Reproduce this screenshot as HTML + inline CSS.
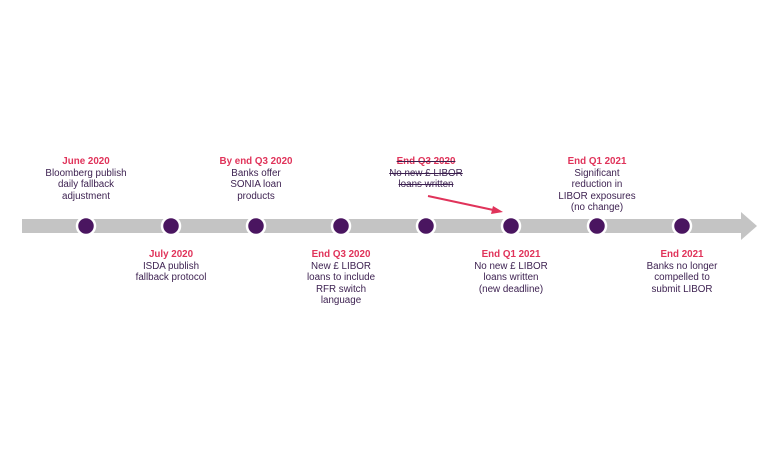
<!DOCTYPE html>
<html><head><style>
body{margin:0;width:768px;height:471px;background:#fff;position:relative;overflow:hidden;font-family:"Liberation Sans",sans-serif;}
.l{position:absolute;width:130px;text-align:center;font-size:9.8px;line-height:11.6px;color:#3b1f4f;}
.l b{color:#e0335a;display:block;}
.s{text-decoration:line-through;}
</style></head><body>
<svg width="768" height="471" style="position:absolute;left:0;top:0">
<rect x="22" y="219" width="722" height="14" fill="#c4c4c4"/>
<polygon points="741,212 757,226 741,240" fill="#c4c4c4"/>
<g fill="#4a1560" stroke="#fff" stroke-width="2.5">
<circle cx="86" cy="226" r="9"/><circle cx="171" cy="226" r="9"/><circle cx="256" cy="226" r="9"/><circle cx="341" cy="226" r="9"/>
<circle cx="426" cy="226" r="9"/><circle cx="511" cy="226" r="9"/><circle cx="597" cy="226" r="9"/><circle cx="682" cy="226" r="9"/>
</g>
<line x1="428" y1="196" x2="498" y2="211" stroke="#e0335a" stroke-width="2"/>
<polygon points="503,212 493,206 491,214" fill="#e0335a"/>
</svg>
<div class="l" style="left:21px;top:156px"><b>June 2020</b>Bloomberg publish<br>daily fallback<br>adjustment</div>
<div class="l" style="left:191px;top:156px"><b>By end Q3 2020</b>Banks offer<br>SONIA loan<br>products</div>
<div class="l s" style="left:361px;top:156px"><b>End Q3 2020</b>No new £ LIBOR<br>loans written</div>
<div class="l" style="left:532px;top:156px"><b>End Q1 2021</b>Significant<br>reduction in<br>LIBOR exposures<br>(no change)</div>
<div class="l" style="left:106px;top:249px"><b>July 2020</b>ISDA publish<br>fallback protocol</div>
<div class="l" style="left:276px;top:249px"><b>End Q3 2020</b>New £ LIBOR<br>loans to include<br>RFR switch<br>language</div>
<div class="l" style="left:446px;top:249px"><b>End Q1 2021</b>No new £ LIBOR<br>loans written<br>(new deadline)</div>
<div class="l" style="left:617px;top:249px"><b>End 2021</b>Banks no longer<br>compelled to<br>submit LIBOR</div>
</body></html>
